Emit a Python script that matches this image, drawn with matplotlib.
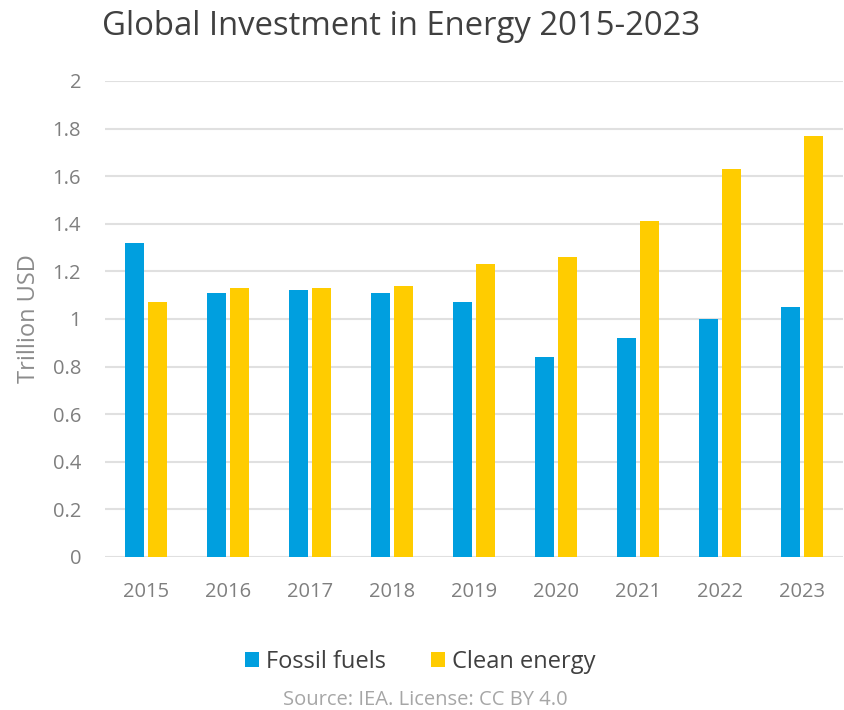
import matplotlib
matplotlib.use("Agg")
import matplotlib.pyplot as plt
import numpy as np

years = ["2015", "2016", "2017", "2018", "2019", "2020", "2021", "2022", "2023"]
fossil = [1.32, 1.11, 1.12, 1.11, 1.07, 0.84, 0.92, 1.00, 1.05]
clean = [1.07, 1.13, 1.13, 1.14, 1.23, 1.26, 1.41, 1.63, 1.77]
yticks = [0, 0.2, 0.4, 0.6, 0.8, 1, 1.2, 1.4, 1.6, 1.8, 2]
ytick_labels = ["0", "0.2", "0.4", "0.6", "0.8", "1", "1.2", "1.4", "1.6", "1.8", "2"]

plt.rcParams['font.family'] = ['Open Sans', 'DejaVu Sans']

fig = plt.figure(figsize=(8.45, 7.1), dpi=100)
ax = fig.add_axes([0.124, 0.2155, 0.874, 0.6705])

x = np.arange(len(years))
w = 0.23
ax.bar(x - 0.14, fossil, w, color="#009FDF", label="Fossil fuels", zorder=3)
ax.bar(x + 0.14, clean, w, color="#FFCC00", label="Clean energy", zorder=3)

ax.set_xlim(-0.5, len(years) - 0.5)
ax.set_ylim(0, 2)
ax.set_yticks(yticks)
ax.set_yticklabels(ytick_labels)
ax.set_xticks(x)
ax.set_xticklabels(years)
ax.tick_params(axis='both', length=0, labelsize=14.5, colors="#7f7f7f")
ax.tick_params(axis='y', pad=17)
ax.tick_params(axis='x', pad=18)
ax.grid(axis='y', color="#e0e0e0", linewidth=1.5, zorder=0)
for s in ax.spines.values():
    s.set_visible(False)

ax.set_ylabel("Trillion USD", fontsize=17, color="#8c8c8c")
ax.yaxis.set_label_coords(-0.086, 0.5)

fig.text(0.121, 0.962, "Global Investment in Energy 2015-2023", fontsize=23.7,
         color="#404040", ha="left", va="center")

leg = fig.legend(loc="center", bbox_to_anchor=(0.497, 0.068), ncol=2, frameon=False,
                 fontsize=17, handlelength=0.6, handleheight=0.6, handletextpad=0.3,
                 columnspacing=1.9)
for t in leg.get_texts():
    t.set_color("#404040")

fig.text(0.503, 0.014, "Source: IEA. License: CC BY 4.0", fontsize=14.5, color="#a6a6a6",
         ha="center", va="center")

fig.savefig("out.png", dpi=100)
